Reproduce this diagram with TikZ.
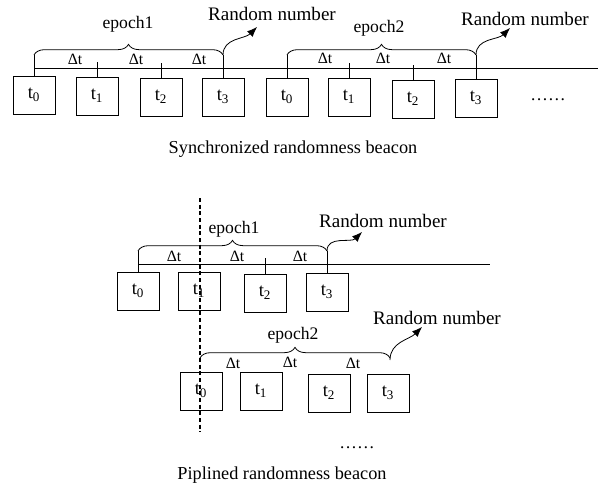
\documentclass[tikz,border=0pt]{standalone}
\usepackage{fontspec}
\setmainfont{Liberation Serif}
\usetikzlibrary{arrows.meta,decorations.pathreplacing}

\begin{document}
\begin{tikzpicture}[x=0.75pt,y=-0.75pt,line width=0.6pt,
  slot/.style={draw,minimum width=31.5pt,minimum height=28.5pt,inner sep=0pt,font=\fontsize{14}{16}\selectfont},
  epochbrace/.style={decorate,decoration={brace,amplitude=8pt}},
  dt/.style={font=\fontsize{11.8}{13}\selectfont},
  lbl/.style={font=\fontsize{13.2}{15}\selectfont},
  beacontitle/.style={font=\fontsize{13.7}{15}\selectfont},
  rn/.style={font=\fontsize{14.3}{16}\selectfont},
  rnarrow/.style={-{Latex[length=7.5pt,width=6pt]}}]
\useasboundingbox (0,0) rectangle (601,487);

% synchronized beacon
\node[slot] (s10) at (34,95) {t\textsubscript{0}};
\node[slot] (s11) at (97,96) {t\textsubscript{1}};
\node[slot] (s12) at (161,97) {t\textsubscript{2}};
\node[slot] (s13) at (223,97) {t\textsubscript{3}};
\node[slot] (s20) at (287,97) {t\textsubscript{0}};
\node[slot] (s21) at (349,97) {t\textsubscript{1}};
\node[slot] (s22) at (413,99) {t\textsubscript{2}};
\node[slot] (s23) at (476,98) {t\textsubscript{3}};
\node[lbl] (sdots) at (548,100) {……};

\coordinate (send) at (598,68);
\draw (s10.north |- 0,68) -- (send);
\draw[epochbrace] (s10.north |- 0,55) -- (s13.north |- 0,55);
\draw[epochbrace] (s20.north |- 0,55) -- (s23.north |- 0,55);
\draw (s10.north) -- (s10.north |- 0,55);
\draw (s11.north) -- ++(0,-15);
\draw (s12.north) -- ++(0,-15);
\draw (s13.north) -- (s13.north |- 0,55);
\draw (s20.north) -- (s20.north |- 0,55);
\draw (s21.north) -- ++(0,-15);
\draw (s22.north) -- ++(0,-15);
\draw (s23.north) -- (s23.north |- 0,55);

\node[lbl] (se1) at (128,24) {epoch1};
\node[lbl] (se2) at (379,28) {epoch2};
\node[dt] at (75,59) {Δt};
\node[dt] at (136,59) {Δt};
\node[dt] at (199,59) {Δt};
\node[dt] at (325,58) {Δt};
\node[dt] at (383,58) {Δt};
\node[dt] at (444,58) {Δt};

\node[rn] (srn1) at (272,14) {Random number};
\node[rn] (srn2) at (525,19) {Random number};
\coordinate (stip1) at (257,27);
\coordinate (stip2) at (510,28);
\draw[rnarrow] (s13.north |- 0,55) to[out=90,in=225] (stip1);
\draw[rnarrow] (s23.north |- 0,55) to[out=90,in=225] (stip2);

\node[beacontitle] (scap) at (293,149) {Synchronized randomness beacon};

% pipelined beacon
\node[slot] (p10) at (138,291) {t\textsubscript{0}};
\node[slot] (p11) at (199,291) {t\textsubscript{1}};
\node[slot] (p12) at (265,293) {t\textsubscript{2}};
\node[slot] (p13) at (327,292) {t\textsubscript{3}};
\node[slot] (p20) at (201,391) {t\textsubscript{0}};
\node[slot] (p21) at (261,391) {t\textsubscript{1}};
\node[slot] (p22) at (329,393) {t\textsubscript{2}};
\node[slot] (p23) at (388,393) {t\textsubscript{3}};
\node[lbl] (pdots) at (357,448) {……};

\coordinate (pend) at (490,264);
\draw (p10.north |- 0,264) -- (pend);
\draw[epochbrace] (p10.north |- 0,251) -- (p13.north |- 0,251);
\draw (p10.north) -- (p10.north |- 0,251);
\draw (p12.north) -- ++(0,-16);
\draw (p13.north) -- (p13.north |- 0,251);
\draw[epochbrace] (200,358) -- (390,358);

\node[lbl] (pe1) at (234,229) {epoch1};
\node[lbl] (pe2) at (293,335) {epoch2};
\node[dt] at (174,256) {Δt};
\node[dt] at (237,256) {Δt};
\node[dt] at (300,256) {Δt};
\node[dt] at (233,363) {Δt};
\node[dt] at (290,362) {Δt};
\node[dt] at (353,363) {Δt};

\node[rn] (prn1) at (383,221) {Random number};
\node[rn] (prn2) at (437,318) {Random number};
\coordinate (ptip1) at (362,232);
\coordinate (ptip2) at (422,327);
\draw[rnarrow] (p13.north |- 0,251) to[out=90,in=225] (ptip1);
\draw[rnarrow] (390,360) to[out=90,in=225] (ptip2);

\coordinate (dtop) at (200,198);
\coordinate (dbot) at (200,432);
\draw[dash pattern=on 3pt off 2pt,line width=0.8pt] (dtop) -- (dbot);

\node[beacontitle] (pcap) at (282,475) {Piplined randomness beacon};
\end{tikzpicture}
\end{document}
